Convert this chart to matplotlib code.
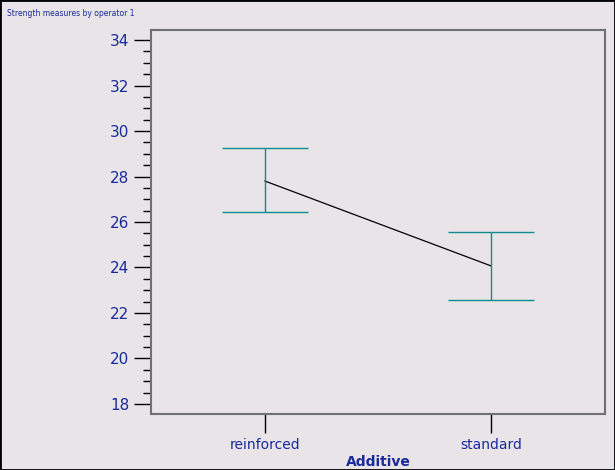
import matplotlib.pyplot as plt
import numpy as np

# data
additive = ['reinforced', 'standard']
means = [27.80, 24.07]
upper = [29.25, 25.56]
lower = [26.44, 22.57]

bg = '#e8e4e8'
blue = '#1a2a9a'
teal = '#118c8c'

fig = plt.figure(figsize=(6.15, 4.7), dpi=100, facecolor=bg)
ax = fig.add_axes([151/615, 1-414/470, 454/615, 384/470], facecolor=bg)

x = np.arange(len(additive))
ax.plot(x, means, color='black', lw=0.9)
for xi, lo, hi in zip(x, lower, upper):
    ax.vlines(xi, lo, hi, color=teal, lw=1)
    ax.hlines([lo, hi], xi - 0.19, xi + 0.19, color=teal, lw=1)

ax.set_xlim(-0.504, 0.504 + 1)
ax.set_ylim(17.56, 34.44)
ax.set_xticks(x, additive)
ax.set_yticks(np.arange(18, 35, 2))
ax.set_yticks(np.arange(18, 34.1, 0.5), minor=True)
ax.tick_params(axis='y', which='major', length=12, width=1, colors='black', labelcolor=blue, labelsize=11)
ax.tick_params(axis='y', which='minor', length=6, width=1, colors='black')
ax.tick_params(axis='x', length=14, width=1, colors='black', labelcolor=blue, labelsize=10)
for s in ax.spines.values():
    s.set_color('#707070')
    s.set_linewidth(1.5)
ax.set_xlabel('Additive', color=blue, fontweight='bold', fontsize=10, labelpad=2)

fig.text(7/615, 1-13/470, 'Strength measures by operator 1', color=blue, fontsize=5.5, va='center')
# outer border
fig.patches.append(plt.Rectangle((0, 0), 1, 1, transform=fig.transFigure,
                                 fill=False, edgecolor='black', lw=2))

fig.savefig('out.png', dpi=100, facecolor=bg)
